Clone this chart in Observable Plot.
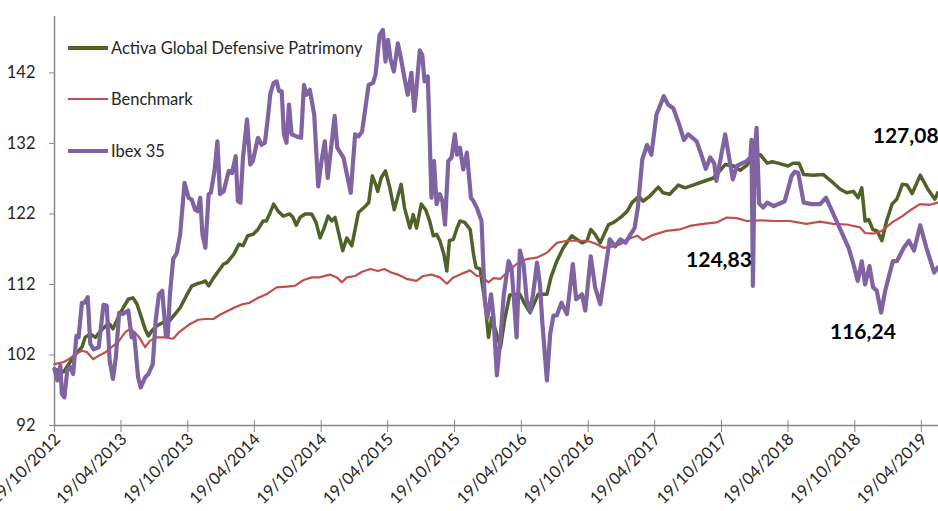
<!DOCTYPE html>
<html><head><meta charset="utf-8">
<script src="https://cdn.jsdelivr.net/npm/d3@7"></script>
<script src="https://cdn.jsdelivr.net/npm/@observablehq/plot@0.6"></script>
<style>
html,body{margin:0;padding:0;background:#fff;overflow:hidden;}
#wrap{position:relative;width:938px;height:511px;overflow:hidden;font-family:Lato,"Open Sans",sans-serif;}
#legend{position:absolute;left:68px;top:0;}
.item{position:absolute;left:0;height:30px;display:flex;align-items:center;white-space:nowrap;font-size:16.5px;color:#262626;}
.sw{width:40px;margin-right:3px;}
</style></head><body><div id="wrap"><div id="legend"></div></div>
<script>
// Series names and colours
const seriesNames = ["Activa Global Defensive Patrimony", "Benchmark", "Ibex 35"];
const seriesColors = ["#4F6228", "#C0504D", "#8064A2"];

// Activa Global Defensive Patrimony [date, value]
const activa = [
["2012-10-19",100.0],["2012-11-13",99.6],["2012-11-27",100.7],["2012-12-15",102.1],["2013-01-02",103.1],["2013-01-11",104.5],
["2013-01-25",105.0],["2013-02-08",104.5],["2013-02-22",105.4],["2013-03-08",106.1],["2013-03-19",106.4],["2013-03-28",105.7],
["2013-04-11",107.3],["2013-04-25",108.7],["2013-05-09",109.9],["2013-05-22",110.1],["2013-06-02",109.2],["2013-06-14",107.3],
["2013-06-24",105.7],["2013-07-03",104.7],["2013-07-12",105.4],["2013-07-25",106.1],["2013-08-12",106.6],["2013-08-31",106.9],
["2013-09-14",107.8],["2013-09-28",108.7],["2013-10-17",110.6],["2013-10-30",111.8],["2013-11-13",112.1],["2013-11-27",112.3],
["2013-12-06",112.5],["2013-12-15",111.8],["2013-12-28",112.9],["2014-01-11",113.9],["2014-01-25",114.9],["2014-02-03",115.1],
["2014-02-22",116.3],["2014-03-08",117.7],["2014-03-19",117.5],["2014-04-01",118.9],["2014-04-15",119.1],["2014-04-29",119.8],
["2014-05-13",121.0],["2014-05-22",121.0],["2014-05-31",122.0],["2014-06-11",123.4],["2014-06-23",122.4],["2014-07-07",121.7],
["2014-07-25",122.0],["2014-08-03",121.5],["2014-08-12",120.4],["2014-08-22",121.5],["2014-09-05",122.0],["2014-09-23",122.0],
["2014-10-05",120.8],["2014-10-16",118.6],["2014-10-27",120.0],["2014-11-07",121.7],["2014-11-17",121.0],["2014-11-26",121.5],
["2014-12-17",116.8],["2014-12-28",118.6],["2015-01-11",117.5],["2015-01-29",122.2],["2015-02-17",123.1],["2015-02-26",123.6],
["2015-03-08",127.4],["2015-03-17",126.2],["2015-03-23",125.2],["2015-04-01",127.1],["2015-04-13",128.1],["2015-04-25",125.7],
["2015-05-07",122.6],["2015-05-17",124.5],["2015-05-26",126.2],["2015-06-04",122.9],["2015-06-19",120.0],["2015-06-28",121.9],
["2015-07-07",120.0],["2015-07-20",123.4],["2015-08-01",122.6],["2015-08-12",121.0],["2015-08-22",118.9],["2015-08-31",119.1],
["2015-09-09",118.2],["2015-09-20",116.3],["2015-09-28",113.9],["2015-10-05",118.2],["2015-10-16",118.4],["2015-10-26",120.0],
["2015-11-03",121.0],["2015-11-16",120.8],["2015-12-01",119.8],["2015-12-10",116.3],["2015-12-17",114.4],["2015-12-28",114.2],
["2016-01-10",109.7],["2016-01-20",104.5],["2016-01-29",107.3],["2016-02-22",103.1],["2016-03-04",106.9],["2016-03-18",110.5],
["2016-04-15",110.6],["2016-04-29",109.2],["2016-05-13",108.0],["2016-06-04",110.6],["2016-06-28",110.6],["2016-07-09",113.0],
["2016-07-25",115.3],["2016-08-12",117.2],["2016-09-04",118.9],["2016-09-18",118.4],["2016-10-02",117.9],["2016-10-16",118.2],
["2016-10-26",119.8],["2016-11-07",119.1],["2016-11-21",117.9],["2016-12-14",120.5],["2016-12-28",120.8],["2017-01-20",121.7],
["2017-02-03",122.4],["2017-02-16",123.6],["2017-03-07",124.5],["2017-03-18",123.8],["2017-04-05",124.5],["2017-04-29",125.8],
["2017-05-12",125.0],["2017-05-30",124.8],["2017-06-23",126.1],["2017-07-11",125.7],["2017-08-02",126.1],["2017-08-30",126.6],
["2017-09-27",127.1],["2017-10-29",129.0],["2017-11-21",128.8],["2017-12-09",128.2],["2017-12-27",128.9],["2018-01-14",130.0],
["2018-02-02",130.4],["2018-02-21",129.2],["2018-03-07",129.4],["2018-03-22",129.2],["2018-04-19",128.8],["2018-05-03",129.2],
["2018-05-19",129.2],["2018-06-01",127.6],["2018-06-27",127.5],["2018-07-24",127.6],["2018-08-21",126.4],["2018-09-09",125.5],
["2018-09-27",125.0],["2018-10-15",125.2],["2018-10-28",124.3],["2018-11-07",125.7],["2018-11-16",121.0],["2018-11-26",121.2],
["2018-12-07",119.8],["2018-12-19",119.6],["2019-01-01",118.2],["2019-01-14",121.0],["2019-01-29",123.4],["2019-02-11",124.1],
["2019-02-26",126.2],["2019-03-11",126.1],["2019-03-25",124.9],["2019-04-16",127.5],["2019-05-07",125.5],["2019-05-26",124.1],
["2019-06-03",125.0]
];

// Benchmark [date, value]
const benchmark = [
["2012-10-19",100.7],["2012-11-13",101.0],["2012-11-27",101.4],["2012-12-15",102.1],["2013-01-02",102.6],["2013-01-16",102.4],
["2013-02-02",101.4],["2013-02-17",101.9],["2013-03-08",102.4],["2013-03-24",103.1],["2013-04-11",103.8],["2013-04-30",105.2],
["2013-05-14",105.7],["2013-05-27",105.2],["2013-06-08",104.5],["2013-06-24",103.1],["2013-07-07",104.0],["2013-07-25",104.5],
["2013-08-17",104.5],["2013-09-09",104.3],["2013-09-24",105.2],["2013-10-07",105.7],["2013-10-25",106.4],["2013-11-17",107.0],
["2013-12-06",107.1],["2013-12-28",107.1],["2014-01-15",107.7],["2014-02-03",108.2],["2014-02-22",108.7],["2014-03-17",109.2],
["2014-04-06",109.4],["2014-04-29",110.1],["2014-05-22",110.6],["2014-06-19",111.6],["2014-07-16",111.7],["2014-08-08",111.8],
["2014-08-31",112.6],["2014-09-23",113.0],["2014-10-14",113.0],["2014-11-12",113.4],["2014-12-01",113.0],["2014-12-15",112.3],
["2014-12-28",113.0],["2015-01-20",113.2],["2015-02-08",113.8],["2015-03-03",114.2],["2015-03-23",113.9],["2015-04-10",114.2],
["2015-04-29",113.7],["2015-05-17",113.4],["2015-06-09",112.8],["2015-07-07",112.5],["2015-07-25",113.2],["2015-08-17",113.4],
["2015-09-09",113.0],["2015-09-28",112.1],["2015-10-16",113.0],["2015-11-07",113.5],["2015-12-01",114.0],["2015-12-19",113.2],
["2016-01-01",113.2],["2016-01-20",112.3],["2016-02-03",112.9],["2016-02-22",112.8],["2016-03-15",113.9],["2016-04-06",114.9],
["2016-05-04",115.6],["2016-05-31",115.8],["2016-06-28",116.5],["2016-07-25",117.9],["2016-08-22",118.2],["2016-09-18",118.2],
["2016-10-16",118.2],["2016-11-07",117.8],["2016-11-30",117.2],["2016-12-28",117.4],["2017-01-15",117.7],["2017-02-03",118.4],
["2017-03-03",118.9],["2017-03-18",118.3],["2017-04-14",119.0],["2017-05-21",119.6],["2017-06-27",119.8],["2017-07-24",120.3],
["2017-08-30",120.6],["2017-10-06",120.8],["2017-11-02",121.5],["2017-11-30",121.4],["2017-12-27",121.0],["2018-02-02",121.1],
["2018-03-11",121.0],["2018-04-24",121.0],["2018-06-08",120.6],["2018-07-16",120.9],["2018-08-21",120.6],["2018-09-27",120.5],
["2018-11-02",120.1],["2018-11-16",119.3],["2018-12-09",119.2],["2019-01-01",119.6],["2019-01-29",120.8],["2019-02-26",121.7],
["2019-03-22",122.6],["2019-04-15",123.4],["2019-05-12",123.3],["2019-06-03",123.6]
];

// Ibex 35 [date, value]
const ibex35 = [
["2012-10-19",100.0],["2012-10-27",98.4],["2012-11-04",100.5],["2012-11-08",96.5],["2012-11-15",96.0],["2012-11-23",99.8],
["2012-12-01",100.3],["2012-12-09",99.3],["2012-12-18",104.7],["2012-12-24",104.5],["2013-01-02",109.4],["2013-01-09",109.4],
["2013-01-18",110.2],["2013-01-25",103.6],["2013-02-03",102.8],["2013-02-17",103.1],["2013-03-02",109.1],["2013-03-11",109.0],
["2013-03-19",101.2],["2013-03-28",98.6],["2013-04-05",101.7],["2013-04-14",108.0],["2013-04-24",107.8],["2013-05-09",108.3],
["2013-05-18",104.5],["2013-05-25",105.0],["2013-06-05",98.8],["2013-06-12",97.4],["2013-06-24",98.8],["2013-07-03",99.3],
["2013-07-15",100.7],["2013-07-23",106.9],["2013-08-01",110.6],["2013-08-10",111.1],["2013-08-20",104.7],["2013-08-25",104.7],
["2013-08-31",110.6],["2013-09-09",115.6],["2013-09-19",116.5],["2013-09-28",119.1],["2013-10-10",126.4],["2013-10-21",124.3],
["2013-10-30",124.0],["2013-11-08",122.6],["2013-11-15",122.4],["2013-11-22",124.3],["2013-11-28",119.1],["2013-12-06",117.2],
["2013-12-15",124.8],["2013-12-21",125.0],["2013-12-31",128.1],["2014-01-08",132.3],["2014-01-15",124.8],["2014-01-25",125.2],
["2014-02-08",128.1],["2014-02-17",127.8],["2014-02-27",130.2],["2014-03-05",123.8],["2014-03-12",123.6],["2014-03-19",130.0],
["2014-03-30",135.4],["2014-04-08",129.0],["2014-04-15",129.5],["2014-04-29",132.8],["2014-05-09",131.8],["2014-05-18",132.1],
["2014-05-26",135.6],["2014-06-02",139.1],["2014-06-11",140.6],["2014-06-19",140.8],["2014-06-26",139.4],["2014-07-03",139.4],
["2014-07-09",133.3],["2014-07-16",132.1],["2014-07-23",137.5],["2014-07-30",133.3],["2014-08-12",133.0],["2014-08-25",132.8],
["2014-09-02",140.3],["2014-09-09",138.9],["2014-09-18",139.6],["2014-09-30",136.1],["2014-10-11",125.9],["2014-10-20",129.5],
["2014-10-29",132.3],["2014-11-06",127.1],["2014-11-25",135.9],["2014-12-02",131.4],["2014-12-19",130.0],["2015-01-08",125.0],
["2015-01-20",133.3],["2015-01-29",133.0],["2015-02-08",133.7],["2015-02-26",140.3],["2015-03-10",140.6],["2015-03-17",141.8],
["2015-03-28",147.4],["2015-04-06",148.1],["2015-04-13",143.6],["2015-04-20",146.7],["2015-04-27",143.9],["2015-05-06",142.2],
["2015-05-17",146.2],["2015-05-26",143.9],["2015-06-04",141.3],["2015-06-13",138.9],["2015-06-23",142.0],["2015-07-01",136.6],
["2015-07-07",139.9],["2015-07-16",145.2],["2015-07-23",144.5],["2015-07-29",140.8],["2015-08-07",141.5],["2015-08-17",124.3],
["2015-08-24",129.5],["2015-08-31",123.4],["2015-09-09",124.8],["2015-09-16",123.8],["2015-09-23",120.5],["2015-10-02",129.5],
["2015-10-11",130.0],["2015-10-20",133.3],["2015-10-26",130.4],["2015-11-03",131.4],["2015-11-12",128.3],["2015-11-22",130.7],
["2015-12-03",124.3],["2015-12-10",123.8],["2015-12-19",122.9],["2016-01-01",121.0],["2016-01-10",109.7],["2016-01-17",107.3],
["2016-01-27",110.6],["2016-02-03",107.3],["2016-02-12",99.1],["2016-02-22",104.5],["2016-03-02",110.6],["2016-03-15",115.3],
["2016-03-23",114.4],["2016-03-30",109.7],["2016-04-06",104.5],["2016-04-15",116.8],["2016-04-25",114.9],["2016-05-04",109.7],
["2016-05-13",108.3],["2016-05-21",110.6],["2016-06-01",115.1],["2016-06-09",112.0],["2016-06-15",106.9],["2016-06-28",98.4],
["2016-07-07",105.0],["2016-07-16",107.6],["2016-07-25",107.6],["2016-08-07",109.4],["2016-08-22",107.8],["2016-09-07",114.9],
["2016-09-16",109.9],["2016-10-02",110.6],["2016-10-11",108.3],["2016-10-26",116.0],["2016-11-07",111.6],["2016-11-21",109.2],
["2016-12-17",118.4],["2017-01-01",117.4],["2017-01-15",118.4],["2017-01-29",117.9],["2017-02-12",119.1],["2017-02-23",120.0],
["2017-03-04",122.9],["2017-03-16",129.7],["2017-03-29",131.8],["2017-04-10",130.4],["2017-04-24",136.1],["2017-05-14",138.7],
["2017-05-26",137.5],["2017-06-09",137.0],["2017-06-25",134.7],["2017-07-08",132.5],["2017-07-20",133.3],["2017-08-12",132.3],
["2017-08-26",130.2],["2017-09-06",128.4],["2017-09-18",130.0],["2017-09-29",129.2],["2017-10-05",126.7],["2017-10-29",133.3],
["2017-11-19",126.9],["2017-11-30",128.8],["2017-12-27",129.5],["2018-01-06",130.0],["2018-01-09",132.5],["2018-01-13",111.8],
["2018-01-18",131.0],["2018-01-23",134.2],["2018-01-30",123.5],["2018-02-10",122.9],["2018-02-21",123.6],["2018-03-11",123.1],
["2018-04-10",123.8],["2018-04-29",127.4],["2018-05-08",128.0],["2018-05-17",127.8],["2018-06-01",123.6],["2018-06-23",123.4],
["2018-07-16",123.4],["2018-08-01",124.3],["2018-08-21",122.0],["2018-10-02",117.2],["2018-10-15",114.9],["2018-10-27",112.5],
["2018-11-07",115.3],["2018-11-16",112.0],["2018-11-28",114.6],["2018-12-08",111.6],["2018-12-18",111.1],["2018-12-30",108.0],
["2019-01-10",111.1],["2019-01-31",115.3],["2019-02-11",115.3],["2019-03-02",117.2],["2019-03-16",118.2],["2019-03-30",116.8],
["2019-04-16",120.4],["2019-05-03",117.2],["2019-05-24",113.7],["2019-06-03",114.4]
];

// Axis ticks
const xTickDates = ["2012-10-19","2013-04-19","2013-10-19","2014-04-19","2014-10-19","2015-04-19","2015-10-19",
  "2016-04-19","2016-10-19","2017-04-19","2017-10-19","2018-04-19","2018-10-19","2019-04-19"];
const yTickValues = [92, 102, 112, 122, 132, 142];
const xDomain = ["2012-10-19", "2019-06-05"];
const yDomain = [92, 150];

// Annotations
const annoLabels = ["127,08", "124,83", "116,24"];
const annoDates = ["2018-12-07", "2017-07-14", "2018-08-12"];
const annoValues = [133.0, 115.5, 105.2];

const parse = d3.utcParse("%Y-%m-%d");
const rows = (arr) => arr.map(([d, v]) => ({date: parse(d), value: v}));
const annos = annoLabels.map((t, i) => ({label: t, date: parse(annoDates[i]), value: annoValues[i]}));
const fmt = d3.utcFormat("%d/%m/%Y");
const xTicks = xTickDates.map(parse);
const axisColor = "#868686";
const textColor = "#262626";

const chart = Plot.plot({
  width: 938, height: 511,
  marginLeft: 54, marginRight: 0, marginTop: 16, marginBottom: 86,
  x: {type: "utc", domain: xDomain.map(parse), label: null},
  y: {domain: yDomain, label: null},
  style: {fontFamily: "Lato, 'Open Sans', sans-serif", background: "white", color: textColor},
  marks: [
    Plot.ruleX([parse(xDomain[0])], {stroke: axisColor, strokeWidth: 1.5}),
    Plot.ruleY([yDomain[0]], {stroke: axisColor, strokeWidth: 1.5}),
    Plot.axisY({ticks: yTickValues, label: null, tickSize: 5, tickPadding: 14, stroke: axisColor, fill: textColor, fontSize: 16.5, tickFormat: d => String(d)}),
    Plot.axisX({ticks: xTicks, label: null, tickSize: 12, dy: -5, stroke: axisColor, tickFormat: () => ""}),
    Plot.axisX({ticks: xTicks, label: null, tickSize: 0, tickPadding: 11, dx: 3, tickRotate: -45, fill: textColor, fontSize: 16.5, tickFormat: fmt}),
    Plot.line(rows(activa), {x: "date", y: "value", stroke: seriesColors[0], strokeWidth: 3.5, strokeLinejoin: "round"}),
    Plot.line(rows(benchmark), {x: "date", y: "value", stroke: seriesColors[1], strokeWidth: 2.2, strokeLinejoin: "round"}),
    Plot.line(rows(ibex35), {x: "date", y: "value", stroke: seriesColors[2], strokeWidth: 4.2, strokeLinejoin: "round"}),
    Plot.text(annos, {x: "date", y: "value", text: "label", textAnchor: "start", fontWeight: "bold", fontSize: 21, fill: "#000"})
  ]
});

const wrap = document.getElementById("wrap");
wrap.insertBefore(chart, wrap.firstChild);

// Legend inside plot area
const legendRowCenters = [48, 99, 151];
const legendWidths = [4, 2.5, 4.5];
const legend = document.getElementById("legend");
seriesNames.forEach((name, i) => {
  const item = document.createElement("div");
  item.className = "item";
  item.style.top = (legendRowCenters[i] - 15) + "px";
  const sw = document.createElement("div");
  sw.className = "sw";
  sw.style.height = legendWidths[i] + "px";
  sw.style.background = seriesColors[i];
  const label = document.createElement("span");
  label.textContent = name;
  item.appendChild(sw);
  item.appendChild(label);
  legend.appendChild(item);
});
</script>
</body></html>
